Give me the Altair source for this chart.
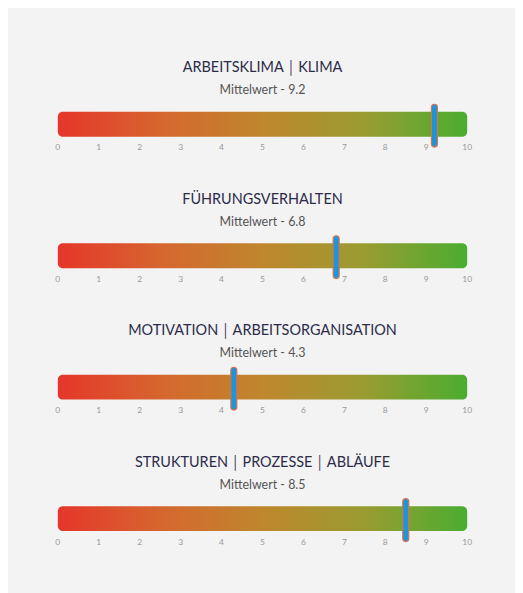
import altair as alt
import pandas as pd

topics = [
    "ARBEITSKLIMA\u2009│\u2009KLIMA",
    "FÜHRUNGSVERHALTEN",
    "MOTIVATION\u2009│\u2009ARBEITSORGANISATION",
    "STRUKTUREN\u2009│\u2009PROZESSE\u2009│\u2009ABLÄUFE",
]
means = [9.2, 6.8, 4.3, 8.5]
scale_min = 0
scale_max = 10
tick_values = list(range(0, 11))

FONT = "Lato"

bars = pd.DataFrame({
    "topic": topics,
    "start": [scale_min] * len(topics),
    "end": [scale_max] * len(topics),
    "mean": means,
    "subtitle": [f"Mittelwert - {m}" for m in means],
})
ticks = pd.DataFrame(
    [{"topic": t, "tick": v} for t in topics for v in tick_values]
)

y_enc = alt.Y("topic:N", sort=topics, axis=None,
              scale=alt.Scale(paddingInner=0, paddingOuter=0))
x_scale = alt.Scale(domain=[scale_min, scale_max], nice=False, zero=False)

gradient = alt.Gradient(
    gradient="linear",
    stops=[
        alt.GradientStop(color="#e5362b", offset=0),
        alt.GradientStop(color="#d6662e", offset=0.25),
        alt.GradientStop(color="#bf872e", offset=0.5),
        alt.GradientStop(color="#999c31", offset=0.75),
        alt.GradientStop(color="#4aad30", offset=1),
    ],
    x1=0, x2=1, y1=0, y2=0,
)

bar = alt.Chart(bars).mark_bar(size=25, cornerRadius=5, color=gradient).encode(
    x=alt.X("start:Q", scale=x_scale, axis=None),
    x2="end:Q",
    y=y_enc,
)

marker = alt.Chart(bars).mark_tick(
    size=43, thickness=6, cornerRadius=3, color="#1b96d8",
    stroke="#d8714e", strokeWidth=1.2, opacity=1, yOffset=1.5,
).encode(
    x=alt.X("mean:Q", scale=x_scale, axis=None),
    y=y_enc,
)

title = alt.Chart(bars).mark_text(
    font=FONT, fontSize=14.5, color="#2c2c4a", yOffset=-56, baseline="middle",
).encode(
    x=alt.value(205.5),
    y=y_enc,
    text="topic:N",
)

subtitle = alt.Chart(bars).mark_text(
    font=FONT, fontSize=12.5, color="#555555", yOffset=-34, baseline="middle",
).encode(
    x=alt.value(205.5),
    y=y_enc,
    text="subtitle:N",
)

tick_labels = alt.Chart(ticks).mark_text(
    font=FONT, fontSize=8.5, color="#999999", yOffset=23, baseline="middle",
).encode(
    x=alt.X("tick:Q", scale=x_scale, axis=None),
    y=y_enc,
    text="tick:Q",
)

chart = alt.layer(bar, tick_labels, title, subtitle, marker).properties(
    width=411,
    height=528,
    background="#f3f3f3",
    padding={"left": 50, "top": 49.5, "right": 48, "bottom": 7.5},
    autosize=alt.AutoSizeParams(type="none"),
).configure_view(stroke=None)

chart.save("out.html", embed_options={"renderer": "svg", "actions": False})
